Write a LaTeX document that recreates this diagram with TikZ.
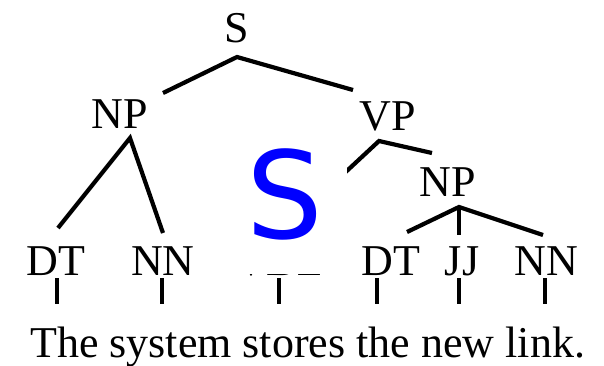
\documentclass[tikz,border=0pt]{standalone}
\usepackage{fontspec}
\setmainfont{Liberation Serif}
\newfontfamily\bigsans{DejaVu Sans}
\begin{document}
\begin{tikzpicture}[x=1pt,y=-1pt,
  lab/.style={font=\fontsize{44}{48}\selectfont, inner sep=0pt, anchor=base},
  edge/.style={line width=4.2pt, line join=miter}]
\useasboundingbox[fill=white] (0,0) rectangle (604,365);
% labels
\node[lab] (S) at (237,42) {S};
\node[lab] (NPa) at (120,128) {NP};
\node[lab] (VP) at (388,130) {VP};
\node[lab] (NPb) at (448,196) {NP};
\node[lab] (DTa) at (56,275) {DT};
\node[lab] (NNa) at (163,275) {NN};
\node[lab] (VBZ) at (279,275) {VBZ};
\node[lab] (DTb) at (391,275) {DT};
\node[lab] (JJ) at (462,275) {JJ};
\node[lab] (NNb) at (546,275) {NN};
\node[lab, anchor=base west] (sent) at (30,357) {The system stores the new link.};
% attach points
\coordinate (S-dn) at (237,57);
\coordinate (NPa-up) at (163,93);
\coordinate (VP-up) at (353,90);
\coordinate (NPa-dn) at (130,138);
\coordinate (DTa-up) at (58,228);
\coordinate (NNa-up) at (163,233);
\coordinate (VP-dn) at (379,141);
\coordinate (VBZ-up) at (279,234);
\coordinate (NPb-up) at (432,153);
\coordinate (NPb-dn) at (459,207);
\coordinate (DTb-up) at (407,232);
\coordinate (JJ-up) at (459,235);
\coordinate (NNb-up) at (543,235);
% edges
\draw[edge] (NPa-up) -- (S-dn) -- (VP-up);
\draw[edge] (DTa-up) -- (NPa-dn) -- (NNa-up);
\draw[edge] (VBZ-up) -- (VP-dn) -- (NPb-up);
\draw[edge] (DTb-up) -- (NPb-dn) -- (NNb-up);
\draw[edge] (NPb-dn) -- (JJ-up);
% word links
\foreach \n/\x in {DTa/57, NNa/162, VBZ/279, DTb/377, JJ/459, NNb/545}
  \draw[line width=4.2pt] (\x,278) -- (\x,304);
% overlay
\node[fill=white, minimum width=124pt, minimum height=144pt, inner sep=0pt] (cover) at (285,202) {};
\node[text=blue, font=\bigsans\fontsize{121}{121}\selectfont, inner sep=0pt, anchor=base] (bigS) at (285,238) {S};
\end{tikzpicture}
\end{document}
